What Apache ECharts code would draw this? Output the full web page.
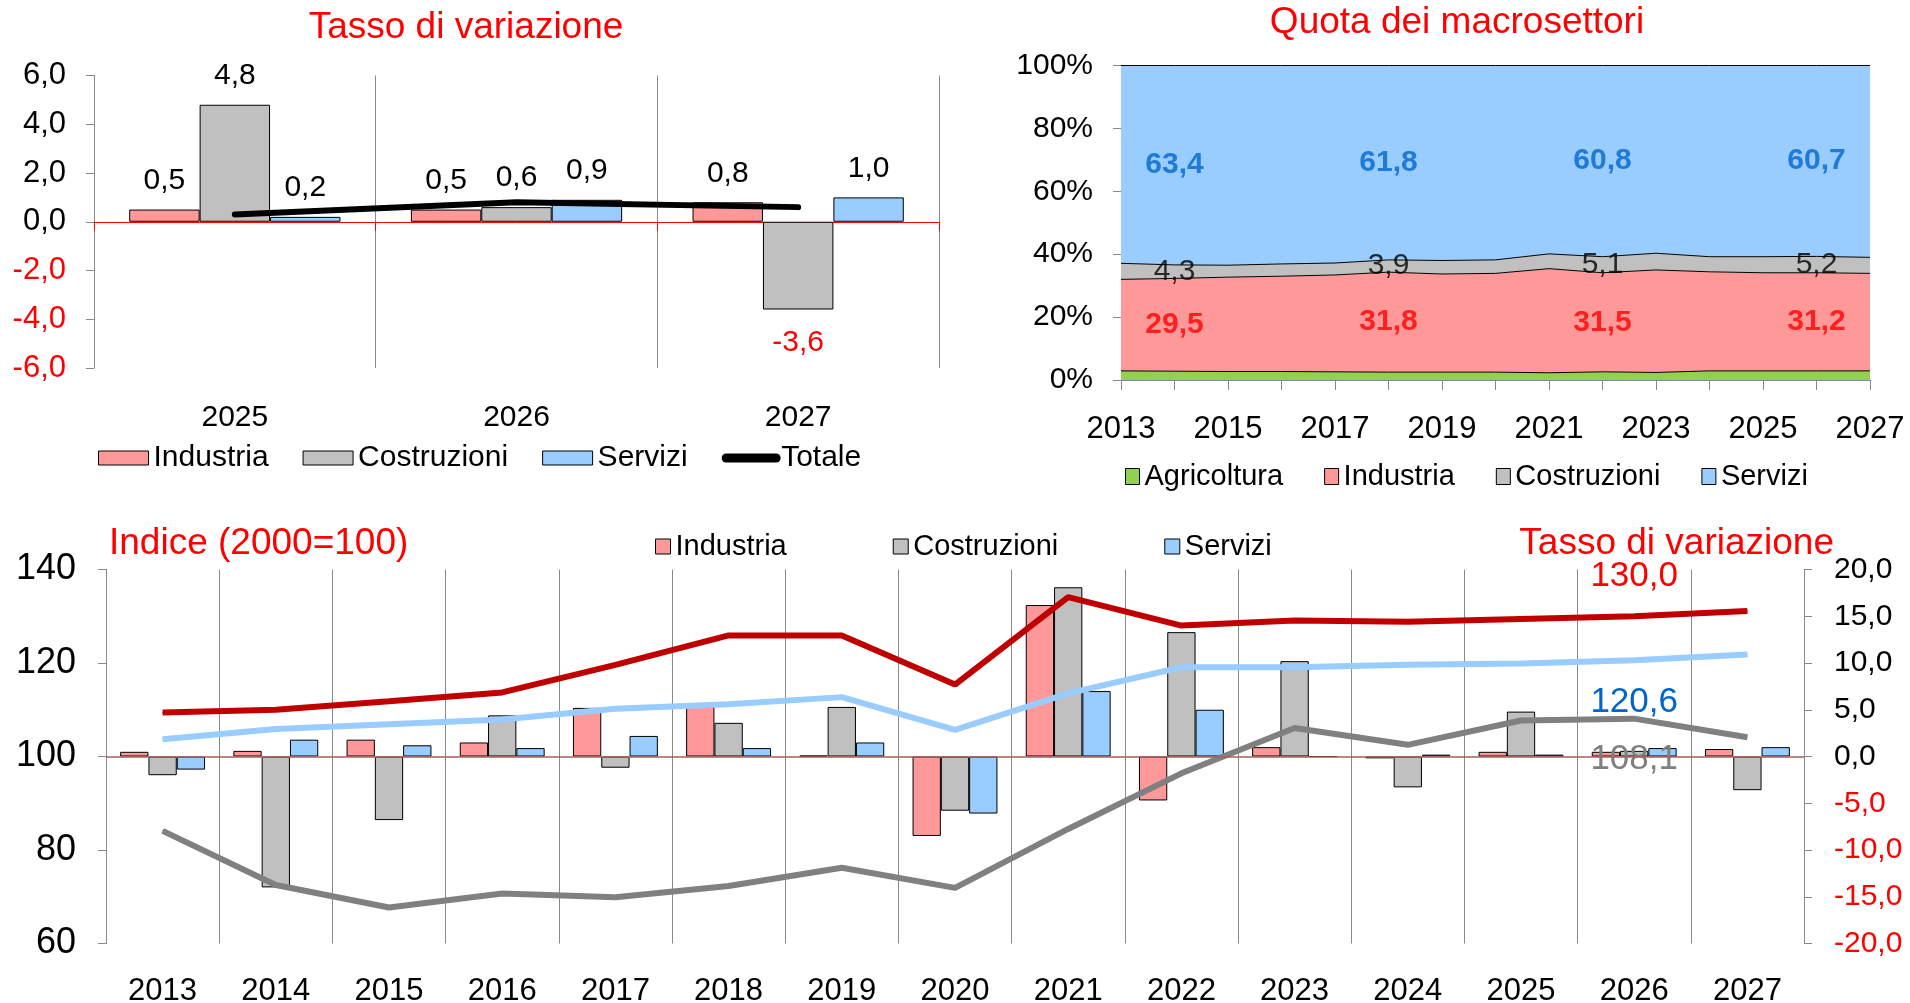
<!DOCTYPE html>
<html>
<head>
<meta charset="utf-8">
<title>Macrosettori</title>
<script src="https://cdn.jsdelivr.net/npm/echarts@6/dist/echarts.min.js"></script>
<style>
html, body { margin: 0; padding: 0; background: #fff; }
#main { width: 1910px; height: 1003px; }
</style>
</head>
<body>
<div id="main"></div>
<script>
// anni
var anni = ['2013', '2014', '2015', '2016', '2017', '2018', '2019', '2020',
            '2021', '2022', '2023', '2024', '2025', '2026', '2027'];
var anniPrev = ['2025', '2026', '2027'];

// tassi di variazione (%)
var tassoIndustria   = [0.5, 0.6, 1.8, 1.5, 5.2, 5.3, 0.1, -8.5, 16.2, -4.7, 1.0, -0.2, 0.5, 0.5, 0.8];
var tassoCostruzioni = [-2.0, -14.0, -6.8, 4.4, -1.2, 3.6, 5.3, -5.8, 18.1, 13.3, 10.2, -3.3, 4.8, 0.6, -3.6];
var tassoServizi     = [-1.4, 1.8, 1.2, 0.9, 2.2, 0.9, 1.5, -6.1, 7.0, 5.0, 0.0, 0.2, 0.2, 0.9, 1.0];
var tassoTotale      = [0.3, 0.8, 0.6];

// indici 2000=100
var indiceIndustria   = [109.4, 110.0, 111.8, 113.7, 119.6, 125.9, 125.9, 115.4, 134.1, 128.0, 129.1, 128.8, 129.4, 130.0, 131.1];
var indiceServizi     = [103.7, 105.9, 106.9, 107.9, 110.2, 111.2, 112.7, 105.7, 113.5, 119.1, 119.1, 119.6, 119.9, 120.6, 121.8];
var indiceCostruzioni = [84.1, 72.5, 67.7, 70.7, 69.9, 72.3, 76.2, 71.9, 84.5, 96.4, 106.1, 102.5, 107.7, 108.1, 104.1];
var annoEtichettaIndice = '2026';

// quote dei macrosettori (%)
var quotaAgricoltura = [2.9, 2.8, 2.7, 2.7, 2.6, 2.5, 2.5, 2.5, 2.3, 2.6, 2.4, 2.9, 2.9, 2.9, 2.9];
var quotaIndustria   = [29.1, 29.5, 30.0, 30.3, 30.8, 31.8, 31.2, 31.4, 33.1, 31.5, 32.6, 31.5, 31.2, 31.2, 31.0];
var quotaCostruzioni = [5.1, 4.3, 3.8, 3.9, 3.8, 3.9, 4.3, 4.3, 4.7, 5.1, 5.3, 4.8, 5.1, 5.2, 5.1];
var quotaServizi     = [62.9, 63.4, 63.5, 63.1, 62.8, 61.8, 62.0, 61.8, 59.9, 60.8, 59.7, 60.8, 60.8, 60.7, 61.0];
var anniEtichette = ['2014', '2018', '2022', '2026'];

var FONT = '"Liberation Sans", Arial, sans-serif';
var ROSSO = '#FF0000';
var GRIGIO = '#898989';
var C_IND = '#FF9999', C_COS = '#C0C0C0', C_SER = '#99CCFF', C_AGR = '#92D050';

function virgola(v) { return Number(v).toFixed(1).replace('.', ','); }
function coloreNeg(v) { return parseFloat(v) < 0 ? ROSSO : '#000000'; }
function ultimi(arr) { return arr.slice(arr.length - anniPrev.length); }

var chart = echarts.init(document.getElementById('main'));

// barre pannello in alto a sinistra (etichette rosse sotto se negative)
function barreTasso(arr) {
    return arr.map(function (v) {
        if (v < 0) return { value: v, label: { position: 'bottom', distance: 18, color: ROSSO } };
        return v;
    });
}
function serieBarTop(nome, arr, colore) {
    return {
        name: nome, type: 'bar', xAxisIndex: 0, yAxisIndex: 0,
        data: barreTasso(ultimi(arr)),
        barGap: '0%', barCategoryGap: '25%',
        itemStyle: { color: colore, borderColor: '#000', borderWidth: 1 },
        label: { show: true, position: 'top', distance: 14, fontSize: 30, color: '#000',
                 formatter: function (p) { return virgola(p.value); } }
    };
}
function serieBarBottom(nome, arr, colore) {
    return {
        name: nome, type: 'bar', xAxisIndex: 3, yAxisIndex: 3, data: arr,
        barGap: '0%', barCategoryGap: '25%',
        itemStyle: { color: colore, borderColor: '#000', borderWidth: 1 }
    };
}
function serieArea(nome, arr, colore) {
    return {
        name: nome, type: 'line', xAxisIndex: 2, yAxisIndex: 1, stack: 'quota',
        data: arr, symbol: 'none',
        itemStyle: { color: colore },
        lineStyle: { color: '#000', width: 1 },
        areaStyle: { color: colore, opacity: 1 }
    };
}

// etichette al centro delle fasce
var idxEtichette = anniEtichette.map(function (a) { return anni.indexOf(a); });
function puntiMedi(sotto, quota) {
    return idxEtichette.map(function (i) { return [anni[i], sotto(i) + quota[i] / 2, quota[i]]; });
}
function serieEtichette(nome, punti, colore, peso) {
    return {
        name: nome, type: 'scatter', xAxisIndex: 2, yAxisIndex: 1, data: punti,
        symbolSize: 1, silent: true, z: 10,
        itemStyle: { color: 'transparent' },
        label: { show: true, position: 'inside', fontSize: 30, fontWeight: peso, color: colore,
                 formatter: function (p) { return virgola(p.value[2]); } }
    };
}

function serieIndice(nome, arr, colore, coloreEt, pos, dist) {
    return {
        name: nome, type: 'line', xAxisIndex: 3, yAxisIndex: 2,
        data: arr.map(function (v, i) {
            if (anni[i] !== annoEtichettaIndice) return v;
            return { value: v, label: { show: true, position: pos, distance: dist, color: coloreEt,
                     fontSize: 35, formatter: function (p) { return virgola(p.value); } } };
        }),
        symbol: 'circle', symbolSize: 1, z: 4,
        itemStyle: { color: colore },
        lineStyle: { color: colore, width: 6 },
        label: { show: false }
    };
}

var serieInd = serieIndice('Indice Industria', indiceIndustria, '#C00000', ROSSO, 'top', 22);
serieInd.markLine = {
    silent: true, symbol: 'none', label: { show: false },
    lineStyle: { color: '#a85c5c', width: 1.5, type: 'solid' },
    data: [{ yAxis: 100 }]
};

var option = {
    backgroundColor: '#ffffff',
    animation: false,
    textStyle: { fontFamily: FONT },
    graphic: [
        { type: 'text', x: 466, y: 28, style: { text: 'Tasso di variazione', fill: ROSSO, fontSize: 37, fontFamily: FONT, align: 'center', textAlign: 'center', verticalAlign: 'middle', textVerticalAlign: 'middle' } },
        { type: 'text', x: 1457, y: 23, style: { text: 'Quota dei macrosettori', fill: ROSSO, fontSize: 37, fontFamily: FONT, align: 'center', textAlign: 'center', verticalAlign: 'middle', textVerticalAlign: 'middle' } },
        { type: 'text', x: 109, y: 544, style: { text: 'Indice (2000=100)', fill: ROSSO, fontSize: 37, fontFamily: FONT, align: 'left', textAlign: 'left', verticalAlign: 'middle', textVerticalAlign: 'middle' } },
        { type: 'text', x: 1834, y: 544, style: { text: 'Tasso di variazione', fill: ROSSO, fontSize: 37, fontFamily: FONT, align: 'right', textAlign: 'right', verticalAlign: 'middle', textVerticalAlign: 'middle' } }
    ],
    legend: [
        {
            left: 98, top: 443, padding: 0, itemWidth: 50, itemHeight: 14, itemGap: 34, selectedMode: false,
            textStyle: { fontSize: 30, color: '#000' },
            itemStyle: { borderColor: '#000', borderWidth: 1 },
            data: [{ name: 'Industria', icon: 'rect' }, { name: 'Costruzioni', icon: 'rect' },
                   { name: 'Servizi', icon: 'rect' },
                   { name: 'Totale', lineStyle: { width: 9 }, itemStyle: { color: 'transparent', borderWidth: 0 } }]
        },
        {
            left: 1125, top: 462, padding: 0, itemWidth: 14, itemHeight: 16, itemGap: 41, selectedMode: false,
            icon: 'rect',
            textStyle: { fontSize: 29, color: '#000' },
            itemStyle: { borderColor: '#000', borderWidth: 1 },
            data: ['Agricoltura', 'Industria', 'Costruzioni', 'Servizi']
        },
        {
            left: 655, top: 532, padding: 0, itemWidth: 15, itemHeight: 15, itemGap: 106, selectedMode: false,
            icon: 'rect',
            textStyle: { fontSize: 29, color: '#000' },
            itemStyle: { borderColor: '#000', borderWidth: 1 },
            data: ['Industria', 'Costruzioni', 'Servizi']
        }
    ],
    grid: [
        { left: 94, top: 75.5, width: 845, height: 292.5, outerBoundsMode: 'none' },
        { left: 1121, top: 65.5, width: 749, height: 314.5, outerBoundsMode: 'none' },
        { left: 106, top: 569.5, width: 1698, height: 374, outerBoundsMode: 'none' }
    ],
    xAxis: [
        {   // linea dello zero con tacche rosse
            type: 'category', gridIndex: 0, data: anniPrev, position: 'top',
            axisLine: { show: true, onZero: true, lineStyle: { color: ROSSO, width: 1 } },
            axisTick: { show: true, inside: true, length: 9, lineStyle: { color: ROSSO } },
            axisLabel: { show: false },
            splitLine: { show: true, lineStyle: { color: GRIGIO, width: 1 } }
        },
        {
            type: 'category', gridIndex: 0, data: anniPrev, position: 'bottom',
            axisLine: { show: false, onZero: false }, axisTick: { show: false },
            axisLabel: { fontSize: 30, color: '#000', margin: 35 },
            splitLine: { show: false }
        },
        {
            type: 'category', gridIndex: 1, data: anni, boundaryGap: false,
            axisLine: { show: true, lineStyle: { color: GRIGIO } },
            axisTick: { show: true, interval: 0, length: 10, lineStyle: { color: GRIGIO } },
            axisLabel: { interval: 1, fontSize: 31, color: '#000', margin: 34 },
            splitLine: { show: false }
        },
        {
            type: 'category', gridIndex: 2, data: anni,
            axisLine: { show: false, onZero: false }, axisTick: { show: false },
            axisLabel: { interval: 0, fontSize: 31, color: '#000', margin: 32 },
            splitLine: { show: true, lineStyle: { color: GRIGIO, width: 1 } }
        }
    ],
    yAxis: [
        {
            type: 'value', gridIndex: 0, min: -6, max: 6, interval: 2,
            axisLine: { show: true, lineStyle: { color: GRIGIO } },
            axisTick: { show: true, length: 8, lineStyle: { color: GRIGIO } },
            axisLabel: { fontSize: 31, margin: 28, color: coloreNeg, formatter: virgola },
            splitLine: { show: false }
        },
        {
            type: 'value', gridIndex: 1, min: 0, max: 100, interval: 20,
            axisLine: { show: true, lineStyle: { color: GRIGIO } },
            axisTick: { show: true, length: 8, lineStyle: { color: GRIGIO } },
            axisLabel: { fontSize: 30, margin: 28, color: '#000', formatter: '{value}%' },
            splitLine: { show: false }
        },
        {
            type: 'value', gridIndex: 2, min: 60, max: 140, interval: 20, position: 'left',
            axisLine: { show: true, lineStyle: { color: GRIGIO } },
            axisTick: { show: true, length: 8, lineStyle: { color: GRIGIO } },
            axisLabel: { fontSize: 36, margin: 30, color: '#000' },
            splitLine: { show: false }
        },
        {
            type: 'value', gridIndex: 2, min: -20, max: 20, interval: 5, position: 'right',
            axisLine: { show: true, lineStyle: { color: GRIGIO } },
            axisTick: { show: true, length: 8, lineStyle: { color: GRIGIO } },
            axisLabel: { fontSize: 30, margin: 30, color: coloreNeg, formatter: virgola },
            splitLine: { show: false }
        }
    ],
    series: [
        // tasso di variazione 2025-2027
        serieBarTop('Industria', tassoIndustria, C_IND),
        serieBarTop('Costruzioni', tassoCostruzioni, C_COS),
        serieBarTop('Servizi', tassoServizi, C_SER),
        {
            name: 'Totale', type: 'line', xAxisIndex: 0, yAxisIndex: 0, data: tassoTotale,
            symbol: 'none', z: 5,
            itemStyle: { color: '#000' },
            lineStyle: { color: '#000', width: 6, cap: 'round' }
        },

        // quote
        serieArea('Agricoltura', quotaAgricoltura, C_AGR),
        serieArea('Industria', quotaIndustria, C_IND),
        serieArea('Costruzioni', quotaCostruzioni, C_COS),
        serieArea('Servizi', quotaServizi, C_SER),
        serieEtichette('et-ind', puntiMedi(function (i) { return quotaAgricoltura[i]; }, quotaIndustria), ROSSO, 'bold'),
        serieEtichette('et-cos', puntiMedi(function (i) { return quotaAgricoltura[i] + quotaIndustria[i]; }, quotaCostruzioni), '#000', 'normal'),
        serieEtichette('et-ser', puntiMedi(function (i) { return quotaAgricoltura[i] + quotaIndustria[i] + quotaCostruzioni[i]; }, quotaServizi), '#0066CC', 'bold'),

        // indici e tassi annui
        serieBarBottom('Industria', tassoIndustria, C_IND),
        serieBarBottom('Costruzioni', tassoCostruzioni, C_COS),
        serieBarBottom('Servizi', tassoServizi, C_SER),
        serieInd,
        serieIndice('Indice Servizi', indiceServizi, C_SER, '#0066CC', 'bottom', 24),
        serieIndice('Indice Costruzioni', indiceCostruzioni, '#808080', '#808080', 'bottom', 23)
    ]
};

chart.setOption(option);

window.addEventListener('resize', function () {
    chart.resize();
});
</script>
</body>
</html>
